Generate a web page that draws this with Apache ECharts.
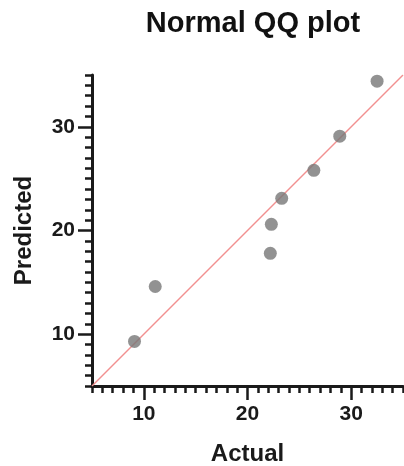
<!DOCTYPE html>
<html>
<head>
<meta charset="utf-8">
<script src="https://cdn.jsdelivr.net/npm/echarts@6/dist/echarts.min.js"></script>
<style>
  html, body { margin: 0; padding: 0; background: #fff; }
  #chart { width: 404px; height: 466px; }
</style>
</head>
<body>
<div id="chart"></div>
<script>
// actual vs predicted quantiles
const actual = [9.1, 11.1, 22.2, 22.3, 23.3, 26.4, 28.9, 32.5];
const predicted = [9.3, 14.6, 17.8, 20.6, 23.1, 25.8, 29.1, 34.4];
// identity line end points
const lineX = [5, 35];
const lineY = [5, 35];
const majorTicks = [10, 20, 30];

const font = 'Liberation Sans, Arial, Helvetica, sans-serif';
const axisColor = '#1a1a1a';

const points = actual.map((x, i) => [x, predicted[i]]);
const refLine = lineX.map((x, i) => [x, lineY[i]]);

function minorAxis(extra) {
  return Object.assign({
    type: 'value',
    min: 5,
    max: 35,
    interval: 1,
    splitLine: { show: false },
    axisLine: { show: true, lineStyle: { color: axisColor, width: 3 } },
    axisTick: { show: true, length: 7, lineStyle: { color: axisColor, width: 2.5 } },
    axisLabel: { show: false }
  }, extra);
}

function majorAxis(extra, margin) {
  return Object.assign({
    type: 'value',
    min: 5,
    max: 35,
    splitLine: { show: false },
    axisLine: { show: false },
    axisTick: { show: true, length: 14, customValues: majorTicks, lineStyle: { color: axisColor, width: 2.5 } },
    axisLabel: {
      show: true, customValues: majorTicks, fontSize: 21, fontWeight: 'bold',
      fontFamily: font, color: '#1a1a1a', margin: margin
    },
    nameLocation: 'middle',
    nameTextStyle: { fontSize: 24, fontWeight: 'bold', fontFamily: font, color: '#1a1a1a' }
  }, extra);
}

const chart = echarts.init(document.getElementById('chart'));
chart.setOption({
  animation: false,
  backgroundColor: '#fff',
  title: {
    text: 'Normal QQ plot',
    left: 248,
    top: 4,
    textAlign: 'center',
    textStyle: { fontSize: 29, fontWeight: 'bold', fontFamily: font, color: '#111' }
  },
  grid: { left: 92, right: 1, top: 75, bottom: 80, containLabel: false, outerBoundsMode: 'none' },
  xAxis: [
    minorAxis({ position: 'bottom' }),
    majorAxis({ position: 'bottom', name: 'Actual', nameGap: 56 }, 18)
  ],
  yAxis: [
    minorAxis({ position: 'left' }),
    majorAxis({ position: 'left', name: 'Predicted', nameGap: 56 }, 17)
  ],
  series: [
    {
      type: 'line',
      data: refLine,
      symbol: 'none',
      lineStyle: { color: '#f29090', width: 1.4 },
      z: 1
    },
    {
      type: 'scatter',
      data: points,
      symbolSize: 13,
      itemStyle: { color: '#777777' },
      z: 2
    }
  ]
});
</script>
</body>
</html>
